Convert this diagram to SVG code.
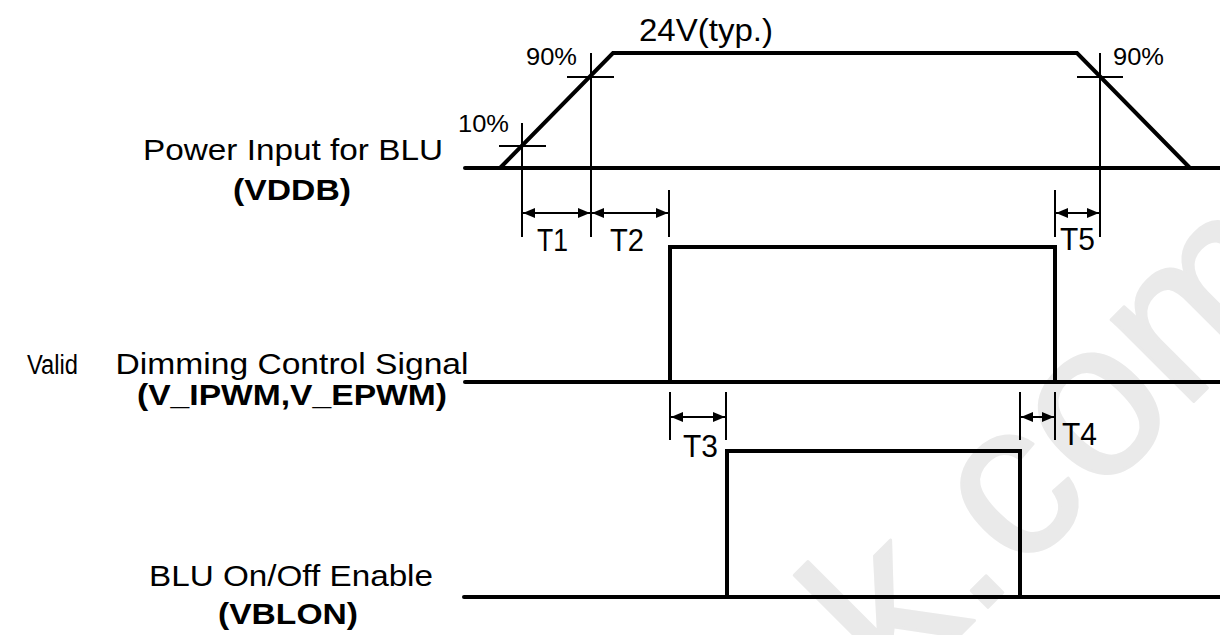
<svg xmlns="http://www.w3.org/2000/svg" width="1220" height="635" viewBox="0 0 1220 635">
<style>
  .bg { fill: #ffffff; }
  .wm { font-family: "Liberation Sans", Arial, sans-serif; font-size: 220px; fill: #eaeaea; stroke: #eaeaea; stroke-width: 3; stroke-linejoin: round; }
  .sig { fill: none; stroke: #000; stroke-width: 4; stroke-linejoin: miter; stroke-linecap: round; }
  .thin { fill: none; stroke: #000; stroke-width: 2; }
  .dim { fill: none; stroke: #000; stroke-width: 2; marker-start: url(#ah); marker-end: url(#ah); }
  .lbl { font-family: "Liberation Sans", Arial, Helvetica, sans-serif; font-size: 30px; fill: #000; }
  .lbls { font-family: "Liberation Sans", Arial, Helvetica, sans-serif; font-size: 27px; fill: #000; }
  .lblb { font-family: "Liberation Sans", Arial, Helvetica, sans-serif; font-size: 29px; font-weight: bold; fill: #000; }
  .sm { font-family: "Liberation Sans", Arial, Helvetica, sans-serif; font-size: 23px; fill: #000; }
  .tl { font-family: "Liberation Sans", Arial, Helvetica, sans-serif; font-size: 31px; fill: #000; }
</style>
<defs>
  <marker id="ah" markerUnits="userSpaceOnUse" markerWidth="13" markerHeight="11" refX="12" refY="5" orient="auto-start-reverse" viewBox="0 0 13 11">
    <path d="M0,0 L12,5 L0,10 Z" fill="#000"/>
  </marker>
</defs>
<rect class="bg" x="0" y="0" width="1220" height="635"/>
<g id="watermark">
  <text class="wm" transform="translate(797.6,797.6) rotate(-45)" x="140 249 313 423 545" y="0">k.com</text>
</g>

<g id="node-vddb">
  <text class="lbl" x="293" y="160" text-anchor="middle" textLength="300" lengthAdjust="spacingAndGlyphs">Power Input for BLU</text>
  <text class="lblb" x="292" y="200" text-anchor="middle" textLength="118" lengthAdjust="spacingAndGlyphs">(VDDB)</text>
  <line class="sig" x1="465" y1="168" x2="1222" y2="168"/>
  <path class="sig" d="M500,168 L613,53 H1077 L1190,168"/>
  <text class="tl" x="639" y="41" textLength="134" lengthAdjust="spacingAndGlyphs">24V(typ.)</text>
  <text class="sm" x="458" y="132" textLength="51" lengthAdjust="spacingAndGlyphs">10%</text>
  <text class="sm" x="526" y="65" textLength="51" lengthAdjust="spacingAndGlyphs">90%</text>
  <text class="sm" x="1113" y="65" textLength="51" lengthAdjust="spacingAndGlyphs">90%</text>
</g>

<g id="node-dimming">
  <text class="lbls" x="27" y="374" textLength="51" lengthAdjust="spacingAndGlyphs">Valid</text>
  <text class="lbl" x="292" y="374" text-anchor="middle" textLength="353" lengthAdjust="spacingAndGlyphs">Dimming Control Signal</text>
  <text class="lblb" x="292" y="405" text-anchor="middle" textLength="310" lengthAdjust="spacingAndGlyphs">(V_IPWM,V_EPWM)</text>
  <line class="sig" x1="465" y1="382" x2="1222" y2="382"/>
  <path class="sig" d="M670,382 V247 H1055 V382"/>
</g>

<g id="node-vblon">
  <text class="lbl" x="291" y="586" text-anchor="middle" textLength="284" lengthAdjust="spacingAndGlyphs">BLU On/Off Enable</text>
  <text class="lblb" x="288" y="624" text-anchor="middle" textLength="140" lengthAdjust="spacingAndGlyphs">(VBLON)</text>
  <line class="sig" x1="464" y1="597" x2="1222" y2="597"/>
  <path class="sig" d="M727,597 V451 H1020 V597"/>
</g>

<g id="connectors">
  <line class="thin" x1="522" y1="123" x2="522" y2="237"/>
  <line class="thin" x1="499" y1="146" x2="546" y2="146"/>
  <line class="thin" x1="591" y1="53" x2="591" y2="237"/>
  <line class="thin" x1="567" y1="77" x2="614" y2="77"/>
  <line class="thin" x1="669" y1="190" x2="669" y2="237"/>
  <line class="thin" x1="1100" y1="53" x2="1100" y2="237"/>
  <line class="thin" x1="1077" y1="77" x2="1123" y2="77"/>
  <line class="thin" x1="1055" y1="190" x2="1055" y2="237"/>
  <line class="thin" x1="670" y1="392" x2="670" y2="440"/>
  <line class="thin" x1="726" y1="392" x2="726" y2="440"/>
  <line class="thin" x1="1020" y1="392" x2="1020" y2="440"/>
  <line class="thin" x1="1055" y1="392" x2="1055" y2="440"/>
  <line class="dim" x1="523" y1="213" x2="590" y2="213"/>
  <line class="dim" x1="592" y1="213" x2="668" y2="213"/>
  <line class="dim" x1="1056" y1="213" x2="1099" y2="213"/>
  <line class="dim" x1="671" y1="417" x2="725" y2="417"/>
  <line class="dim" x1="1021" y1="417" x2="1054" y2="417"/>
  <text class="tl" x="537" y="251" textLength="31" lengthAdjust="spacingAndGlyphs">T1</text>
  <text class="tl" x="610" y="251" textLength="34" lengthAdjust="spacingAndGlyphs">T2</text>
  <text class="tl" x="1060" y="250" textLength="35" lengthAdjust="spacingAndGlyphs">T5</text>
  <text class="tl" x="683" y="457" textLength="35" lengthAdjust="spacingAndGlyphs">T3</text>
  <text class="tl" x="1062" y="445" textLength="35" lengthAdjust="spacingAndGlyphs">T4</text>
</g>
</svg>
